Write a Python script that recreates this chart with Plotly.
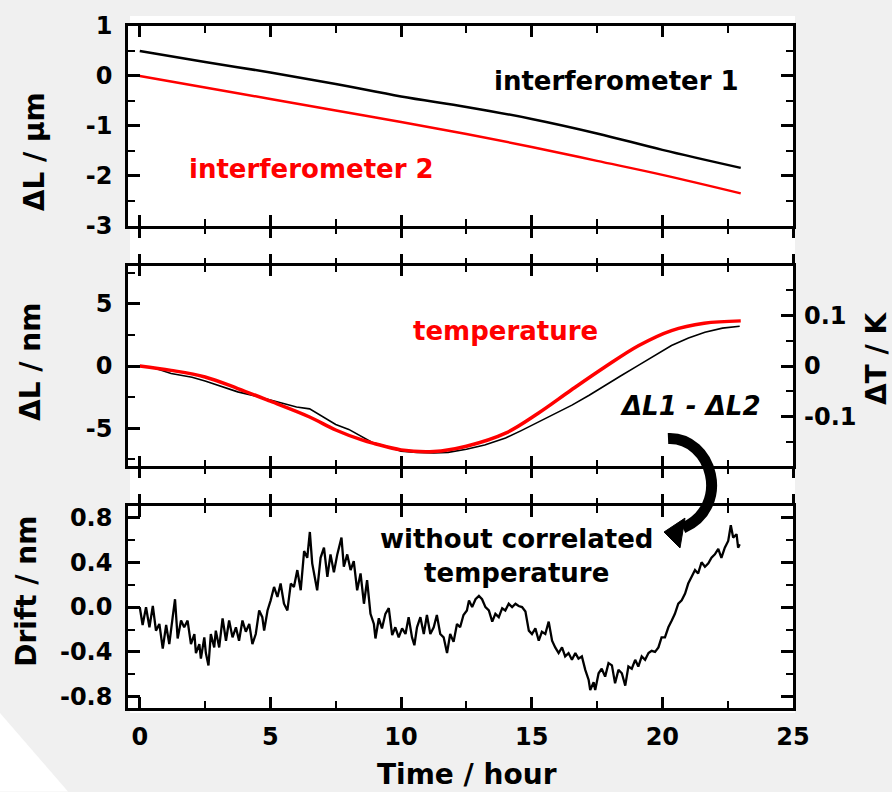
import plotly.graph_objects as go

# ---------------- data ----------------
# top panel: interferometer length changes (micrometre)
t_top = [0, 2.5, 5, 7.5, 10, 12.5, 15, 17.5, 20, 23]
interf1_um = [0.50, 0.28, 0.07, -0.16, -0.41, -0.62, -0.86, -1.15, -1.48, -1.84]
interf2_um = [0.00, -0.23, -0.46, -0.69, -0.92, -1.16, -1.42, -1.70, -1.98, -2.35]

# middle panel: temperature (K, right axis)
t_temp = [0, 1.2, 2.5, 3.75, 5, 6.5, 7.5, 8.5, 9.0, 10, 11.25, 12.5, 14, 15.25,
          16.5, 17.8, 19.1, 20.35, 21.6, 23]
temp_K = [0, -0.0086, -0.0216, -0.0444, -0.0694, -0.1005, -0.1262, -0.1458, -0.1532,
          -0.1654, -0.1686, -0.1581, -0.1324, -0.0931, -0.0478, -0.0020, 0.0404,
          0.0699, 0.0843, 0.0890]

# middle panel: difference dL1 - dL2 (nm)
t_diff = [0, 0.5, 1.2, 2, 2.5, 3, 3.75, 4.5, 5, 5.5, 6, 6.5, 7, 7.5, 8, 8.45, 8.9,
          9.5, 10, 10.6, 11.25, 11.8, 12.5, 13.2, 14, 14.6, 15.27, 15.9, 16.54, 17.2,
          17.8, 18.4, 19.08, 19.7, 20.35, 21, 21.63, 22.3, 22.96]
diff_nm = [0, -0.12, -0.61, -0.9, -1.2, -1.55, -2.08, -2.45, -2.75, -3.05, -3.3, -3.45,
           -4.1, -4.7, -5.1, -5.65, -6.15, -6.5, -6.85, -6.95, -7.0, -6.95, -6.7, -6.35,
           -5.8, -5.2, -4.5, -3.85, -3.15, -2.35, -1.55, -0.8, 0.05, 0.85, 1.65, 2.25,
           2.72, 3.05, 3.2]

# bottom panel: drift without correlated temperature (nm)
t_drift = [0.0, 0.11, 0.24, 0.37, 0.50, 0.62, 0.75, 0.88, 1.01, 1.13, 1.26, 1.35, 1.45,
           1.58, 1.70, 1.83, 1.96, 2.09, 2.15, 2.28, 2.34, 2.47, 2.53, 2.63, 2.72, 2.85,
           2.91, 3.04, 3.17, 3.30, 3.42, 3.55, 3.68, 3.80, 3.93, 4.06, 4.19, 4.31, 4.44,
           4.57, 4.69, 4.76, 4.89, 5.01, 5.14, 5.27, 5.39, 5.52, 5.65, 5.78, 5.90, 6.03,
           6.16, 6.29, 6.41, 6.51, 6.60, 6.79, 6.92, 7.05, 7.18, 7.30, 7.43, 7.56, 7.72,
           7.81, 7.94, 8.07, 8.19, 8.32, 8.45, 8.58, 8.70, 8.83, 8.96, 9.02, 9.15, 9.27,
           9.40, 9.53, 9.66, 9.78, 9.91, 10.04, 10.17, 10.29, 10.42, 10.51, 10.61, 10.74,
           10.87, 10.99, 11.12, 11.25, 11.37, 11.50, 11.63, 11.76, 11.88, 12.01, 12.14,
           12.26, 12.39, 12.52, 12.60, 12.72, 12.85, 12.98, 13.10, 13.23, 13.36, 13.49,
           13.61, 13.74, 13.87, 13.99, 14.12, 14.25, 14.38, 14.50, 14.63, 14.76, 14.89,
           15.01, 15.14, 15.27, 15.39, 15.52, 15.65, 15.78, 15.90, 16.03, 16.16, 16.28,
           16.41, 16.54, 16.67, 16.79, 16.92, 17.05, 17.18, 17.24, 17.37, 17.43, 17.56,
           17.68, 17.81, 17.94, 18.07, 18.19, 18.32, 18.45, 18.58, 18.70, 18.83, 18.96,
           19.08, 19.21, 19.34, 19.47, 19.59, 19.72, 19.85, 19.97, 20.10, 20.23, 20.36,
           20.48, 20.61, 20.74, 20.87, 20.99, 21.12, 21.25, 21.37, 21.50, 21.63, 21.76,
           21.88, 22.01, 22.14, 22.26, 22.39, 22.52, 22.62, 22.71, 22.84, 22.90, 22.96]
drift_nm = [0.0, -0.16, 0.0, -0.18, 0.01, -0.21, -0.15, -0.37, -0.16, -0.33, -0.09, 0.07,
            -0.28, -0.12, -0.18, -0.12, -0.33, -0.24, -0.41, -0.33, -0.46, -0.27, -0.41,
            -0.52, -0.24, -0.36, -0.21, -0.36, -0.10, -0.30, -0.12, -0.27, -0.18, -0.30,
            -0.12, -0.22, -0.15, -0.33, -0.24, -0.03, -0.09, -0.21, -0.03, 0.06, 0.18,
            0.09, 0.21, 0.03, -0.03, 0.21, 0.18, 0.33, 0.15, 0.50, 0.44, 0.67, 0.39, 0.15,
            0.44, 0.53, 0.27, 0.47, 0.31, 0.47, 0.62, 0.36, 0.47, 0.33, 0.41, 0.15, 0.30,
            0.03, 0.24, -0.06, -0.15, -0.28, -0.10, -0.19, -0.06, -0.01, -0.25, -0.18,
            -0.27, -0.19, -0.24, -0.09, -0.27, -0.34, -0.18, -0.09, -0.24, -0.07, -0.24,
            -0.18, -0.07, -0.24, -0.27, -0.41, -0.24, -0.31, -0.15, -0.18, -0.07, -0.03,
            0.06, 0.0, 0.07, 0.10, 0.07, 0.0, -0.03, -0.13, -0.06, -0.09, -0.01, -0.03,
            0.03, 0.0, 0.03, 0.01, 0.0, -0.04, -0.21, -0.24, -0.19, -0.30, -0.22, -0.24,
            -0.13, -0.30, -0.36, -0.41, -0.36, -0.44, -0.41, -0.47, -0.41, -0.46, -0.44,
            -0.56, -0.65, -0.74, -0.67, -0.74, -0.59, -0.55, -0.62, -0.50, -0.52, -0.68,
            -0.56, -0.59, -0.70, -0.53, -0.55, -0.47, -0.53, -0.44, -0.47, -0.41, -0.39,
            -0.40, -0.36, -0.27, -0.27, -0.18, -0.12, -0.06, 0.03, 0.06, 0.12, 0.21, 0.27,
            0.33, 0.30, 0.40, 0.36, 0.39, 0.44, 0.47, 0.52, 0.44, 0.53, 0.59, 0.73, 0.62,
            0.65, 0.53, 0.56]

# tick labels
x_ticks = [0, 5, 10, 15, 20, 25]
x_tick_text = ["0", "5", "10", "15", "20", "25"]
top_y_ticks = [1, 0, -1, -2, -3]
top_y_text = ["1", "0", "-1", "-2", "-3"]
mid_y_ticks = [5, 0, -5]
mid_y_text = ["5", "0", "-5"]
temp_ticks = [0.1, 0, -0.1]
temp_text = ["0.1", "0", "-0.1"]
drift_ticks = [0.8, 0.4, 0.0, -0.4, -0.8]
drift_text = ["0.8", "0.4", "0.0", "-0.4", "-0.8"]

# ---------------- layout geometry ----------------
W, H = 892, 792
L, R, T, B = 128, 99, 22, 84
PW, PH = W - L - R, H - T - B


def pxx(x):  # pixel -> paper x
    return (x - L) / PW


def pxy(y):  # pixel -> paper y
    return (H - B - y) / PH


FONT = "DejaVu Sans"
XR = [-0.45, 25]
dom_bot = [0, pxy(505)]
dom_mid = [pxy(465), pxy(263)]
dom_top = [pxy(223), 1]

tickfont = dict(family=FONT, size=24, color="black", weight="bold")


def minor(dt, ln=7):
    return dict(tickmode="linear", tick0=0, dtick=dt, ticks="inside", ticklen=ln,
                tickwidth=2, tickcolor="black", showgrid=False)


def xmain(anchor, labels):
    return dict(domain=[0, 1], anchor=anchor, range=XR, tickmode="array",
                tickvals=x_ticks, ticktext=x_tick_text, ticks="inside", ticklen=11,
                tickwidth=2.5, tickcolor="black", showline=True, linewidth=2.5,
                linecolor="black", mirror="ticks", showgrid=False, zeroline=False,
                showticklabels=labels, tickfont=tickfont, ticklabelstandoff=5,
                minor=minor(2.5, 7))


def xover(over, anchor, side):
    d = dict(overlaying=over, anchor=anchor, side=side, range=XR, tickmode="array",
             tickvals=x_ticks, ticks="outside", ticklen=11, tickwidth=2.5,
             tickcolor="black", showline=False, showgrid=False, zeroline=False,
             showticklabels=False, minor=minor(2.5, 7))
    d["minor"]["ticks"] = "outside"
    return d


def ymain(anchor, dom, rng, tv, tt, mdt, mirror="ticks"):
    return dict(domain=dom, anchor=anchor, range=rng, tickmode="array", tickvals=tv,
                ticktext=tt, ticks="inside", ticklen=12, tickwidth=2.5,
                tickcolor="black", showline=True, linewidth=2.5, linecolor="black",
                mirror=mirror, showgrid=False, zeroline=False, tickfont=tickfont,
                ticklabelstandoff=8, minor=minor(mdt, 7))


fig = go.Figure()

# top panel
fig.add_trace(go.Scatter(x=t_top, y=interf1_um, mode="lines", xaxis="x3", yaxis="y3",
                         line=dict(color="black", width=2.5, shape="spline")))
fig.add_trace(go.Scatter(x=t_top, y=interf2_um, mode="lines", xaxis="x3", yaxis="y3",
                         line=dict(color="#ff0000", width=2.5, shape="spline")))
# middle panel
fig.add_trace(go.Scatter(x=t_diff, y=diff_nm, mode="lines", xaxis="x2", yaxis="y2",
                         line=dict(color="black", width=1.6)))
fig.add_trace(go.Scatter(x=t_temp, y=temp_K, mode="lines", xaxis="x2", yaxis="y4",
                         line=dict(color="#ff0000", width=3.5, shape="spline")))
# bottom panel
fig.add_trace(go.Scatter(x=t_drift, y=drift_nm, mode="lines", xaxis="x", yaxis="y",
                         line=dict(color="black", width=2.3)))
# empty traces so that the overlay tick axes are drawn
for xa, ya in [("x4", "y"), ("x5", "y2"), ("x6", "y2"), ("x7", "y3")]:
    fig.add_trace(go.Scatter(x=[None], y=[None], xaxis=xa, yaxis=ya, mode="lines",
                             hoverinfo="skip"))

fig.update_layout(
    width=W, height=H, margin=dict(l=L, r=R, t=T, b=B, pad=0),
    paper_bgcolor="#f0f0f0", plot_bgcolor="white", showlegend=False,
    font=dict(family=FONT, color="black", weight="bold"),
    xaxis=xmain("y", True),
    xaxis2=xmain("y2", False),
    xaxis3=xmain("y3", False),
    xaxis4=xover("x", "y", "top"),
    xaxis5=xover("x2", "y2", "top"),
    xaxis6=xover("x2", "y2", "bottom"),
    xaxis7=xover("x3", "y3", "bottom"),
    yaxis=ymain("x", dom_bot, [-0.9, 0.9], drift_ticks, drift_text, 0.2),
    yaxis2=ymain("x2", dom_mid, [-8.08, 8.08], mid_y_ticks, mid_y_text, 2.5, mirror=True),
    yaxis3=ymain("x3", dom_top, [-3, 1], top_y_ticks, top_y_text, 0.5),
    yaxis4=dict(overlaying="y2", anchor="x2", side="right", range=[-0.198, 0.198],
                tickmode="array", tickvals=temp_ticks, ticktext=temp_text,
                ticks="inside", ticklen=12, tickwidth=2.5, tickcolor="black",
                showline=False, showgrid=False, zeroline=False, tickfont=tickfont,
                ticklabelstandoff=10, minor=minor(0.05, 7)),
)

# background panel shapes
fig.add_shape(type="rect", xref="paper", yref="paper", x0=pxx(130), x1=pxx(795),
              y0=pxy(713), y1=pxy(12), fillcolor="white", line_width=0, layer="below")
fig.add_shape(type="path", xref="paper", yref="paper",
              path=f"M {pxx(0)},{pxy(713)} L {pxx(68)},{pxy(792)} L {pxx(0)},{pxy(792)} Z",
              fillcolor="white", line_width=0, layer="below")

# curved arrow
p0, p1, p2, p3 = (668, 437), (712, 435), (732, 505), (683, 527)
fig.add_shape(type="path", xref="paper", yref="paper", layer="above",
              path=(f"M {pxx(p0[0])},{pxy(p0[1])} C {pxx(p1[0])},{pxy(p1[1])} "
                    f"{pxx(p2[0])},{pxy(p2[1])} {pxx(p3[0])},{pxy(p3[1])}"),
              line=dict(color="black", width=11))
fig.add_shape(type="path", xref="paper", yref="paper", layer="above",
              path=(f"M {pxx(664)},{pxy(531)} L {pxx(685)},{pxy(517)} "
                    f"L {pxx(680)},{pxy(547)} Z"),
              fillcolor="black", line=dict(color="black", width=1))

# texts
def ann(text, x, y, xref, yref, color="black", size=26, angle=0):
    fig.add_annotation(text=text, x=x, y=y, xref=xref, yref=yref, showarrow=False,
                       xanchor="center", yanchor="middle", textangle=angle,
                       font=dict(family=FONT, size=size, color=color, weight="bold"))


ann("interferometer 1", 18.26, -0.1, "x3", "y3")
ann("interferometer 2", 6.59, -1.87, "x3", "y3", color="#ff0000")
ann("temperature", 14.0, 2.8, "x2", "y2", color="#ff0000")
ann("<i>ΔL</i><i>1 - ΔL2</i>", 21.06, -3.2, "x2", "y2")
ann("without correlated<br>temperature", 14.4, 0.458, "x", "y")

ann("ΔL / μm", pxx(34), pxy(149), "paper", "paper", size=28, angle=-90)
ann("ΔL / nm", pxx(30), pxy(360), "paper", "paper", size=28, angle=-90)
ann("Drift / nm", pxx(27), pxy(591), "paper", "paper", size=28, angle=-90)
ann("ΔT / K", pxx(876), pxy(357), "paper", "paper", size=28, angle=-90)
ann("Time / hour", pxx(467), pxy(775), "paper", "paper", size=28)

fig.write_html("out.html")
